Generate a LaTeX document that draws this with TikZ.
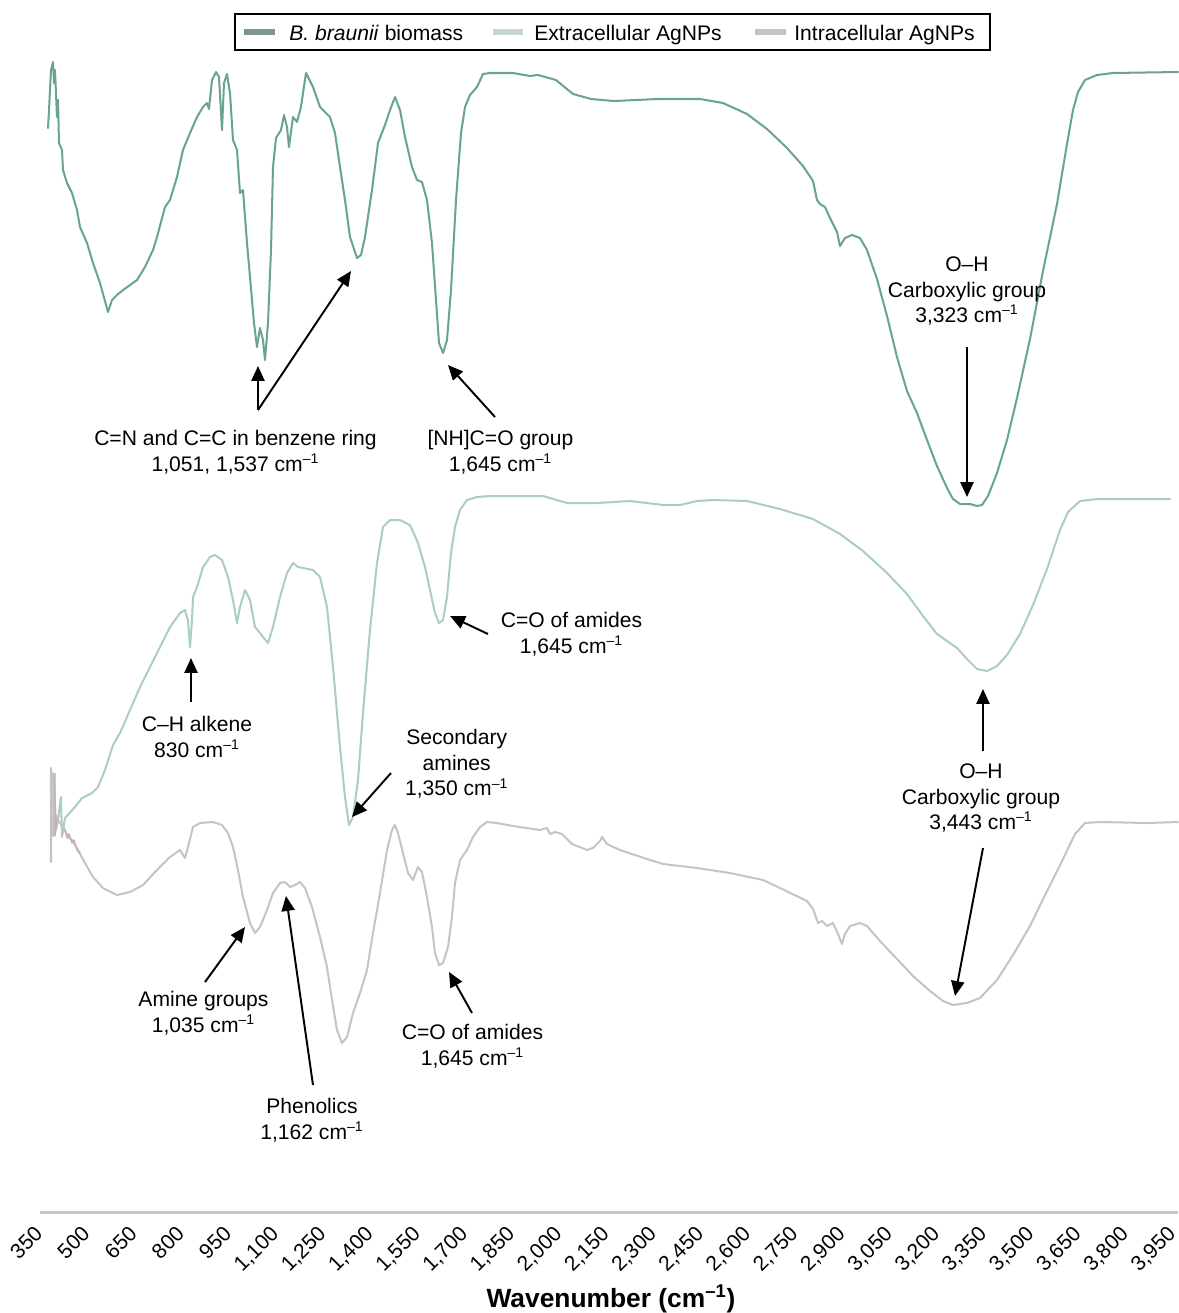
\documentclass[tikz,border=0pt]{standalone}
\usepackage{fontspec}
\setmainfont{Liberation Sans}
\usetikzlibrary{arrows.meta}
\definecolor{topc}{RGB}{104,163,148}
\definecolor{midc}{RGB}{170,205,196}
\definecolor{botc}{RGB}{196,196,196}
\definecolor{lgone}{RGB}{122,150,141}
\definecolor{lgtwo}{RGB}{196,214,207}
\definecolor{lgthree}{RGB}{196,196,196}
\definecolor{axc}{RGB}{200,200,200}
\definecolor{pinkc}{RGB}{205,172,178}
\begin{document}
\begin{tikzpicture}[x=0.02cm,y=-0.02cm,
  lbl/.style={font=\fontsize{12}{14.5}\selectfont, align=center, inner sep=0pt},
  legtxt/.style={font=\fontsize{12}{14.5}\selectfont, anchor=base west, inner sep=0pt},
  ticklab/.style={font=\fontsize{12}{14}\selectfont, rotate=45, anchor=base east, inner sep=0pt},
  ann/.style={draw=black, line width=1.1pt, -{Triangle[length=8.5pt,width=7.5pt]}},
  spec/.style={line width=1.15pt, line join=round, line cap=round},
  swatch/.style={line width=3pt}
]
\useasboundingbox (0,0) rectangle (1178,1313);

% legend
\draw[line width=0.9pt] (235,14) rectangle (990,50);
\draw[swatch, lgone] (244,32) -- (275,32);
\node[legtxt] (leg1) at (289,40) {\textit{B. braunii} biomass};
\draw[swatch, lgtwo] (493,32) -- (523,32);
\node[legtxt] (leg2) at (534,40) {Extracellular AgNPs};
\draw[swatch, lgthree] (755,32) -- (786,32);
\node[legtxt] (leg3) at (794,40) {Intracellular AgNPs};

% top spectrum: B. braunii biomass
\draw[spec, topc] plot coordinates {
(48,128) (49,110) (51,70) (53,62) (54,83) (55,70) (57,117) (58,100) (59,143) (62,150) (63,170) (67,183) (72,193) (77,210) (80,227) (87,243) (93,263) (100,283) (108,312) (112,300) (117,295) (123,290) (137,280) (145,267) (153,250) (157,237) (165,207) (170,200) (177,177) (183,150) (190,133) (197,117) (203,107) (207,103) (209,109) (212,80) (216,72) (219,77) (222,130) (224,83) (227,74) (230,93) (233,140) (237,150) (240,193) (243,190) (247,243) (250,277) (254,323) (257,347) (260,328) (263,340) (265,360) (268,323) (271,250) (273,167) (276,138) (281,130) (284,115) (287,127) (289,147) (293,117) (297,122) (301,107) (306,73) (313,87) (320,107) (325,112) (330,117) (335,133) (340,167) (345,200) (350,237) (357,258) (361,255) (365,237) (372,190) (378,143) (385,125) (390,110) (395,97) (400,110) (405,137) (412,167) (417,180) (422,182) (427,200) (432,243) (436,300) (439,343) (443,353) (447,340) (451,290) (456,200) (461,133) (465,107) (470,95) (477,87) (483,74) (490,73) (513,73) (530,76)
(538,75) (556,80) (573,94) (591,99) (614,101) (658,99) (680,99) (700,99) (723,103) (747,114) (767,129) (787,148) (803,166) (813,181) (817,200) (820,204) (825,207) (830,218) (837,232) (840,246) (845,238) (852,235) (860,238) (867,250) (877,279) (887,316) (897,357) (907,391) (917,413) (927,440) (937,466) (947,488) (953,499) (960,504) (970,504) (977,506) (982,505) (988,496) (997,473) (1007,440) (1017,398) (1030,339) (1043,271) (1057,204) (1067,144) (1073,110) (1078,92) (1085,80) (1097,75) (1113,73) (1178,72)};

% middle spectrum: extracellular AgNPs
\draw[spec, midc] plot coordinates {
(53,836) (54,775) (56,830) (58,820) (61,797) (62,837) (65,818) (75,807) (82,798) (92,793) (98,787) (105,770) (113,745) (120,733) (130,710) (140,687) (150,667) (160,647) (170,627) (180,613) (185,610) (188,620) (190,647) (192,620) (193,597) (197,587) (203,567) (210,557) (215,555) (222,560) (228,577) (233,600) (237,623) (240,607) (245,590) (250,600) (255,627) (260,633) (263,637) (268,643) (273,627) (280,597) (287,573) (293,563) (298,567) (303,568) (313,570) (320,577) (327,607) (333,667) (340,747) (345,797) (349,825) (353,817) (358,780) (363,713) (370,630) (377,563) (383,527) (390,520) (400,520) (410,525) (418,543) (425,567) (430,590) (435,613) (439,623) (443,620) (447,597) (451,553) (455,527) (460,510) (467,500) (477,497) (490,496) (513,496) (543,496) (567,503) (597,503) (630,501) (663,505) (680,505) (697,501) (713,500) (747,501) (780,509) (813,519) (840,534) (863,551) (887,573) (907,594) (923,616) (937,634) (947,641) (957,648) (967,659) (977,669) (987,671) (997,666) (1007,655) (1020,634) (1033,605) (1047,569) (1060,530) (1068,512) (1080,501) (1097,499) (1170,499)};

% bottom spectrum: intracellular AgNPs
\draw[spec, botc] plot coordinates {
(51,862) (51,768) (52,800) (53,773) (54,835) (56,815) (58,820) (62,826) (65,830) (68,837) (72,840) (78,850) (85,863) (93,877) (103,888) (117,895) (130,892) (143,885) (157,870) (170,857) (180,850) (185,858) (188,847) (193,827) (200,823) (213,822) (222,825) (228,833) (233,847) (238,870) (243,897) (250,923) (255,933) (260,927) (267,910) (273,893) (280,883) (285,882) (290,887) (295,885) (300,882) (305,888) (312,907) (320,937) (327,967) (332,1000) (337,1030) (342,1043) (347,1037) (353,1013) (360,993) (367,970) (373,933) (380,893) (387,850) (392,830) (395,825) (398,833) (403,853) (408,873) (413,880) (418,867) (422,872) (427,897) (432,927) (435,953) (439,965) (443,963) (448,947) (452,917) (455,883) (460,860) (467,850) (473,837) (480,827) (487,822) (497,823) (513,826) (540,830) (547,828) (550,834) (555,832) (562,834) (572,844) (587,850) (593,848) (600,841) (602,837) (607,844) (620,850) (647,859) (663,864) (697,868) (730,873) (763,880) (780,888) (807,901) (813,909) (818,923) (822,921) (827,926) (833,923) (838,934) (842,944) (845,934) (850,926) (860,923) (867,926) (880,941) (897,959) (913,976) (930,991) (943,1001) (953,1005) (967,1003) (980,998) (997,980) (1013,955) (1030,926) (1047,891) (1063,859) (1075,834) (1085,823) (1100,822) (1147,823) (1178,822)};
\draw[line width=0.8pt, pinkc, line join=round] plot coordinates {(55,773) (55,836) (57,818)};
\draw[line width=0.8pt, pinkc, line join=round] plot coordinates {(65,830) (67,838) (69,834) (72,843) (74,840) (77,850) (80,853)};

% x axis
\draw[axc, line width=1.7pt] (40,1212) -- (1178,1212);
\foreach \lab [count=\i from 0] in {350,500,650,800,950,{1,100},{1,250},{1,400},{1,550},{1,700},{1,850},{2,000},{2,150},{2,300},{2,450},{2,600},{2,750},{2,900},{3,050},{3,200},{3,350},{3,500},{3,650},{3,800},{3,950}}
  \node[ticklab] (tick\i) at ({44+47.2*\i},1235) {\lab};
\node[font=\fontsize{15}{18}\selectfont\bfseries, anchor=base, inner sep=0pt] (xtitle) at (611,1307) {Wavenumber (cm\textsuperscript{–1})};

% annotation labels
\node[lbl] (lcn) at (235.5,452) {C=N and C=C in benzene ring\\1,051, 1,537 cm\textsuperscript{–1}};
\node[lbl] (lnh) at (500.5,452) {[NH]C=O group\\1,645 cm\textsuperscript{–1}};
\node[lbl] (loha) at (967,291) {O–H\\Carboxylic group\\3,323 cm\textsuperscript{–1}};
\node[lbl] (lcoa) at (571.5,634) {C=O of amides\\1,645 cm\textsuperscript{–1}};
\node[lbl] (lch) at (197,737) {C–H alkene\\830 cm\textsuperscript{–1}};
\node[lbl] (lsec) at (456.7,764) {Secondary\\amines\\1,350 cm\textsuperscript{–1}};
\node[lbl] (lohb) at (981,798) {O–H\\Carboxylic group\\3,443 cm\textsuperscript{–1}};
\node[lbl] (lam) at (203.5,1013) {Amine groups\\1,035 cm\textsuperscript{–1}};
\node[lbl] (lcob) at (472.5,1046) {C=O of amides\\1,645 cm\textsuperscript{–1}};
\node[lbl] (lph) at (312,1120) {Phenolics\\1,162 cm\textsuperscript{–1}};

% arrow end points
\coordinate (cnT) at (258,410);
\coordinate (cnA) at (258,366);
\coordinate (cnB) at (351,271);
\coordinate (nhT) at (495,417);
\coordinate (nhA) at (448,365);
\coordinate (ohaT) at (967,347);
\coordinate (ohaA) at (967,497);
\coordinate (coaT) at (488,634);
\coordinate (coaA) at (450,616);
\coordinate (chT) at (191,702);
\coordinate (chA) at (191,658);
\coordinate (secT) at (391,773);
\coordinate (secA) at (352,817);
\coordinate (ohbT) at (983,751);
\coordinate (ohbA) at (983,689);
\coordinate (ohcT) at (983,848);
\coordinate (ohcA) at (955,996);
\coordinate (amT) at (205,982);
\coordinate (amA) at (245,927);
\coordinate (phT) at (313,1085);
\coordinate (phA) at (286,896);
\coordinate (cobT) at (472,1013);
\coordinate (cobA) at (449,972);

\draw[ann] (cnT) -- (cnA);
\draw[ann] (cnT) -- (cnB);
\draw[ann] (nhT) -- (nhA);
\draw[ann] (ohaT) -- (ohaA);
\draw[ann] (coaT) -- (coaA);
\draw[ann] (chT) -- (chA);
\draw[ann] (secT) -- (secA);
\draw[ann] (ohbT) -- (ohbA);
\draw[ann] (ohcT) -- (ohcA);
\draw[ann] (amT) -- (amA);
\draw[ann] (phT) -- (phA);
\draw[ann] (cobT) -- (cobA);
\end{tikzpicture}
\end{document}
